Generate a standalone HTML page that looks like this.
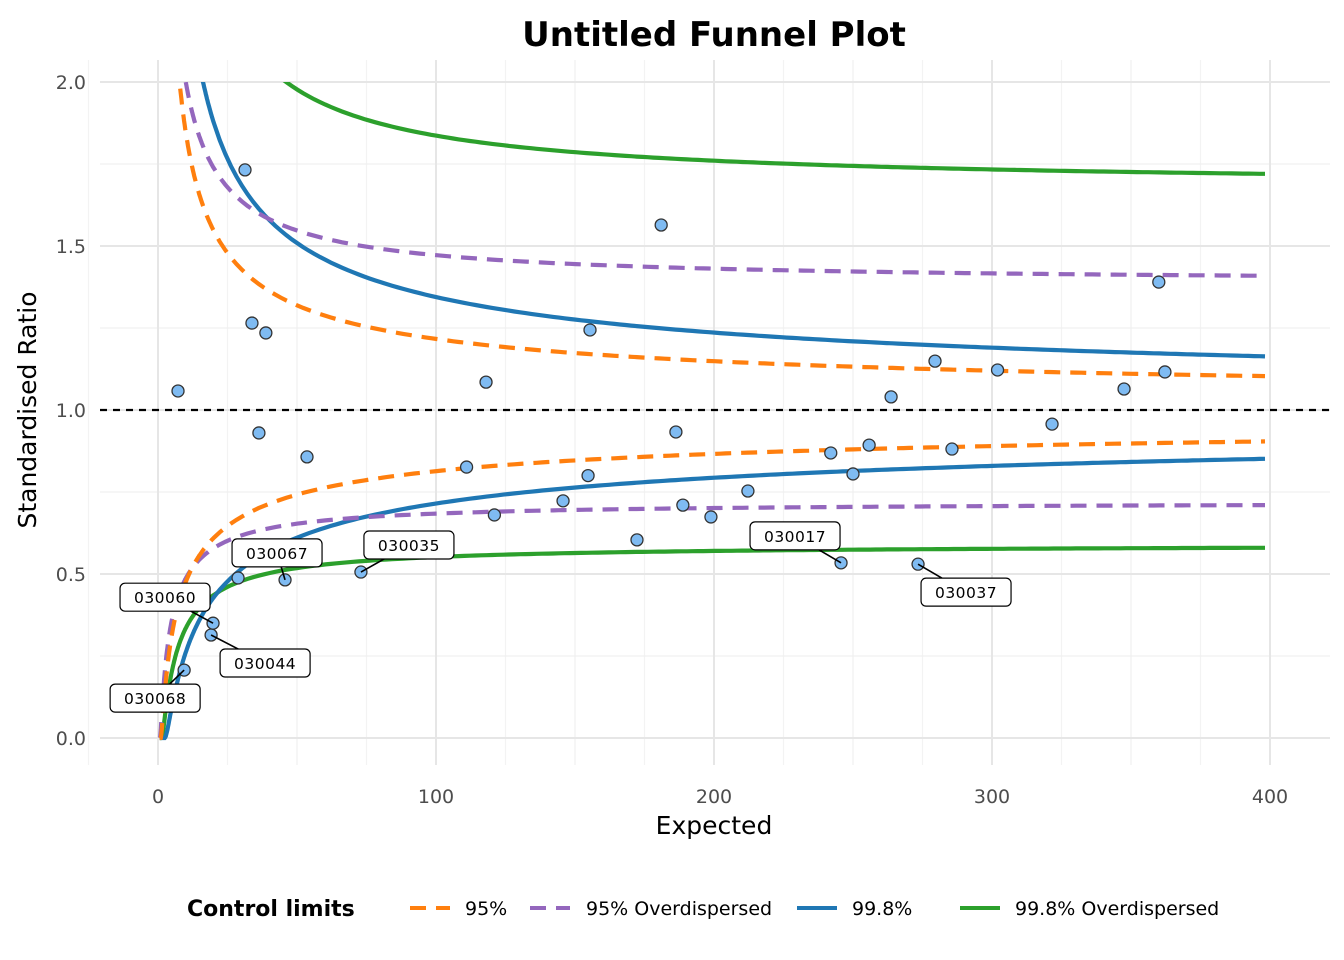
<!DOCTYPE html>
<html><head><meta charset="utf-8"><style>
body{margin:0;background:#fff;}
svg{display:block;font-family:"DejaVu Sans","Liberation Sans",sans-serif;}
</style></head><body>
<svg id="chart" width="1344" height="960" viewBox="0 0 1344 960">
<rect width="1344" height="960" fill="#fff"/>
<g id="grid"></g>
<g id="curves"></g>
<g id="points"></g>
<g id="labels"></g>
<g id="axes"></g>
<text x="714" y="46" text-anchor="middle" font-size="34" font-weight="bold">Untitled Funnel Plot</text>
<text x="714" y="834" text-anchor="middle" font-size="25">Expected</text>
<text transform="translate(36,410) rotate(-90)" text-anchor="middle" font-size="25">Standardised Ratio</text>
<g>
<text x="187" y="916" font-size="22" font-weight="bold">Control limits</text>
<g><line x1="410" y1="908" x2="450" y2="908" stroke="#ff7f0e" stroke-width="4" stroke-dasharray="16,10"/><text x="465" y="915" font-size="19">95%</text></g>
<g><line x1="530" y1="908" x2="570" y2="908" stroke="#9467bd" stroke-width="4" stroke-dasharray="16,10"/><text x="586" y="915" font-size="19">95% Overdispersed</text></g>
<g><line x1="797" y1="908" x2="837" y2="908" stroke="#1f77b4" stroke-width="4"/><text x="852" y="915" font-size="19">99.8%</text></g>
<g><line x1="960" y1="908" x2="1000" y2="908" stroke="#2ca02c" stroke-width="4"/><text x="1015" y="915" font-size="19">99.8% Overdispersed</text></g>
</g>
</svg>
<script>
const expected=[7.2,31.3,33.8,38.8,36.3,9.4,19.1,19.8,28.8,45.7,53.6,73,111,118,121,145.7,154.7,155.4,172.3,181,186.3,188.8,198.9,212.2,242,245.7,250,255.8,263.7,273.4,279.5,285.6,302,321.6,347.5,360,362.2];
const ratio=[1.058,1.732,1.265,1.235,0.93,0.207,0.314,0.35,0.488,0.482,0.857,0.506,0.826,1.085,0.68,0.723,0.80,1.244,0.604,1.564,0.933,0.71,0.674,0.753,0.869,0.534,0.805,0.893,1.04,0.53,1.149,0.881,1.122,0.957,1.064,1.39,1.116];
const labelNames=["030068","030060","030044","030067","030035","030017","030037"];
const labelE=[9.4,19.8,19.1,45.7,73,245.7,273.4];
const labelR=[0.207,0.35,0.314,0.482,0.506,0.534,0.53];
const labelDx=[-29,-48,54,-8,48,-46,48];
const labelDy=[28,-26,28,-27,-27,-27,28];
const xTicks=[0,100,200,300,400];
const yTicks=[0,0.5,1,1.5,2];
const yTickLabels=["0.0","0.5","1.0","1.5","2.0"];
const zLimits=[1.96,3.09];
const odAUpper=[0.364,0.407];
const odTauUpper=[0.0082,0.00914];
const odALower=[0.178,0.1295];
const odTauLower=[0.0060,0.00563];

const NS="http://www.w3.org/2000/svg";
const X0=100,X1=1330,Y0=60,Y1=765;
const sx=v=>158+v*(1112/400);
const sy=v=>738-v*328;
function mk(t,a,p){const e=document.createElementNS(NS,t);for(const k in a)e.setAttribute(k,a[k]);(p||document.getElementById('chart')).appendChild(e);return e;}
const grid=document.getElementById('grid');
[-25,25,75,125,175,225,275,325,375].forEach(v=>{const l=mk('line',{x1:sx(v),x2:sx(v),y1:Y0,y2:Y1,stroke:'#f3f3f3','stroke-width':1.2},grid);});
[50,150,250,350].forEach(v=>{const l=mk('line',{x1:sx(v),x2:sx(v),y1:Y0,y2:Y1,stroke:'#f0f0f0','stroke-width':1.3},grid);});
[0.25,0.75,1.25,1.75].forEach(v=>{const l=mk('line',{x1:X0,x2:X1,y1:sy(v),y2:sy(v),stroke:'#f0f0f0','stroke-width':1.3},grid);});
xTicks.forEach(v=>{const l=mk('line',{x1:sx(v),x2:sx(v),y1:Y0,y2:Y1,stroke:'#e6e6e6','stroke-width':2},grid);});
yTicks.forEach(v=>{const l=mk('line',{x1:X0,x2:X1,y1:sy(v),y2:sy(v),stroke:'#e6e6e6','stroke-width':2},grid);});
const axes=document.getElementById('axes');
xTicks.forEach(v=>{const t=mk('text',{x:sx(v),y:803,'text-anchor':'middle','font-size':19,fill:'#4d4d4d'},axes);t.textContent=v;});
yTicks.forEach((v,i)=>{const t=mk('text',{x:86,y:sy(v)+7,'text-anchor':'end','font-size':19,fill:'#4d4d4d'},axes);t.textContent=yTickLabels[i];});

const defs=mk('defs',{});const cp=mk('clipPath',{id:'clip'},defs);mk('rect',{x:X0,y:sy(2.0),width:X1-X0,height:sy(-0.02)-sy(2.0)},cp);
const curves=document.getElementById('curves');curves.setAttribute('clip-path','url(#clip)');
const rl=mk('line',{x1:X0,x2:X1,y1:sy(1),y2:sy(1),stroke:'#000','stroke-width':2.2,'stroke-dasharray':'7,6'},grid);

function curve(fn,color,dash,name){let d='';for(let E=0.6;E<=400;E+=(E<20?0.2:2)){const v=fn(E);d+=(d?'L':'M')+sx(E).toFixed(1)+','+sy(v).toFixed(1);}
const p=mk('path',{d:d,fill:'none',stroke:color,'stroke-width':4.2,'stroke-dasharray':dash||'none'},curves);}
const pU=(z)=>E=>Math.pow(Math.sqrt(E+1)+z/2,2)/E;
const pL=(z)=>E=>Math.pow(Math.max(Math.sqrt(E)-z/2,0),2)/E;
const odU=(z,a,t)=>E=>Math.pow(1+z*Math.sqrt(a/E+t),2);
const odL=(z,a,t)=>E=>Math.pow(Math.max(1-z*Math.sqrt(a/E+t),0),2);
curve(odU(zLimits[1],odAUpper[1],odTauUpper[1]),'#2ca02c',null,'limit-998-od-upper');
curve(odL(zLimits[1],odALower[1],odTauLower[1]),'#2ca02c',null,'limit-998-od-lower');
curve(pU(zLimits[1]),'#1f77b4',null,'limit-998-upper');
curve(pL(zLimits[1]),'#1f77b4',null,'limit-998-lower');
curve(odU(zLimits[0],odAUpper[0],odTauUpper[0]),'#9467bd','16,10','limit-95-od-upper');
curve(odL(zLimits[0],odALower[0],odTauLower[0]),'#9467bd','16,10','limit-95-od-lower');
curve(pU(zLimits[0]),'#ff7f0e','16,10','limit-95-upper');
curve(pL(zLimits[0]),'#ff7f0e','16,10','limit-95-lower');

const pts=document.getElementById('points');
expected.forEach((e,i)=>{const c=mk('circle',{cx:sx(e),cy:sy(ratio[i]),r:6,fill:'#7fbbf2',stroke:'#333','stroke-width':1.3},pts);});

const lab=document.getElementById('labels');
labelNames.forEach((n,i)=>{const px=sx(labelE[i]),py=sy(labelR[i]);const cx=px+labelDx[i],cy=py+labelDy[i];
const g=mk('g',{},lab);
mk('line',{x1:px,y1:py,x2:cx,y2:cy,stroke:'#000','stroke-width':1.6},g);
const w=90,h=28;let bx=cx-w/2,by=cy-h/2;
mk('rect',{x:bx,y:by,width:w,height:h,rx:5,fill:'#fff',stroke:'#000','stroke-width':1.2},g);
const t=mk('text',{x:cx,y:cy+6,'text-anchor':'middle','font-size':15.5,'letter-spacing':'0.5'},g);t.textContent=n;});
</script>
</body></html>
